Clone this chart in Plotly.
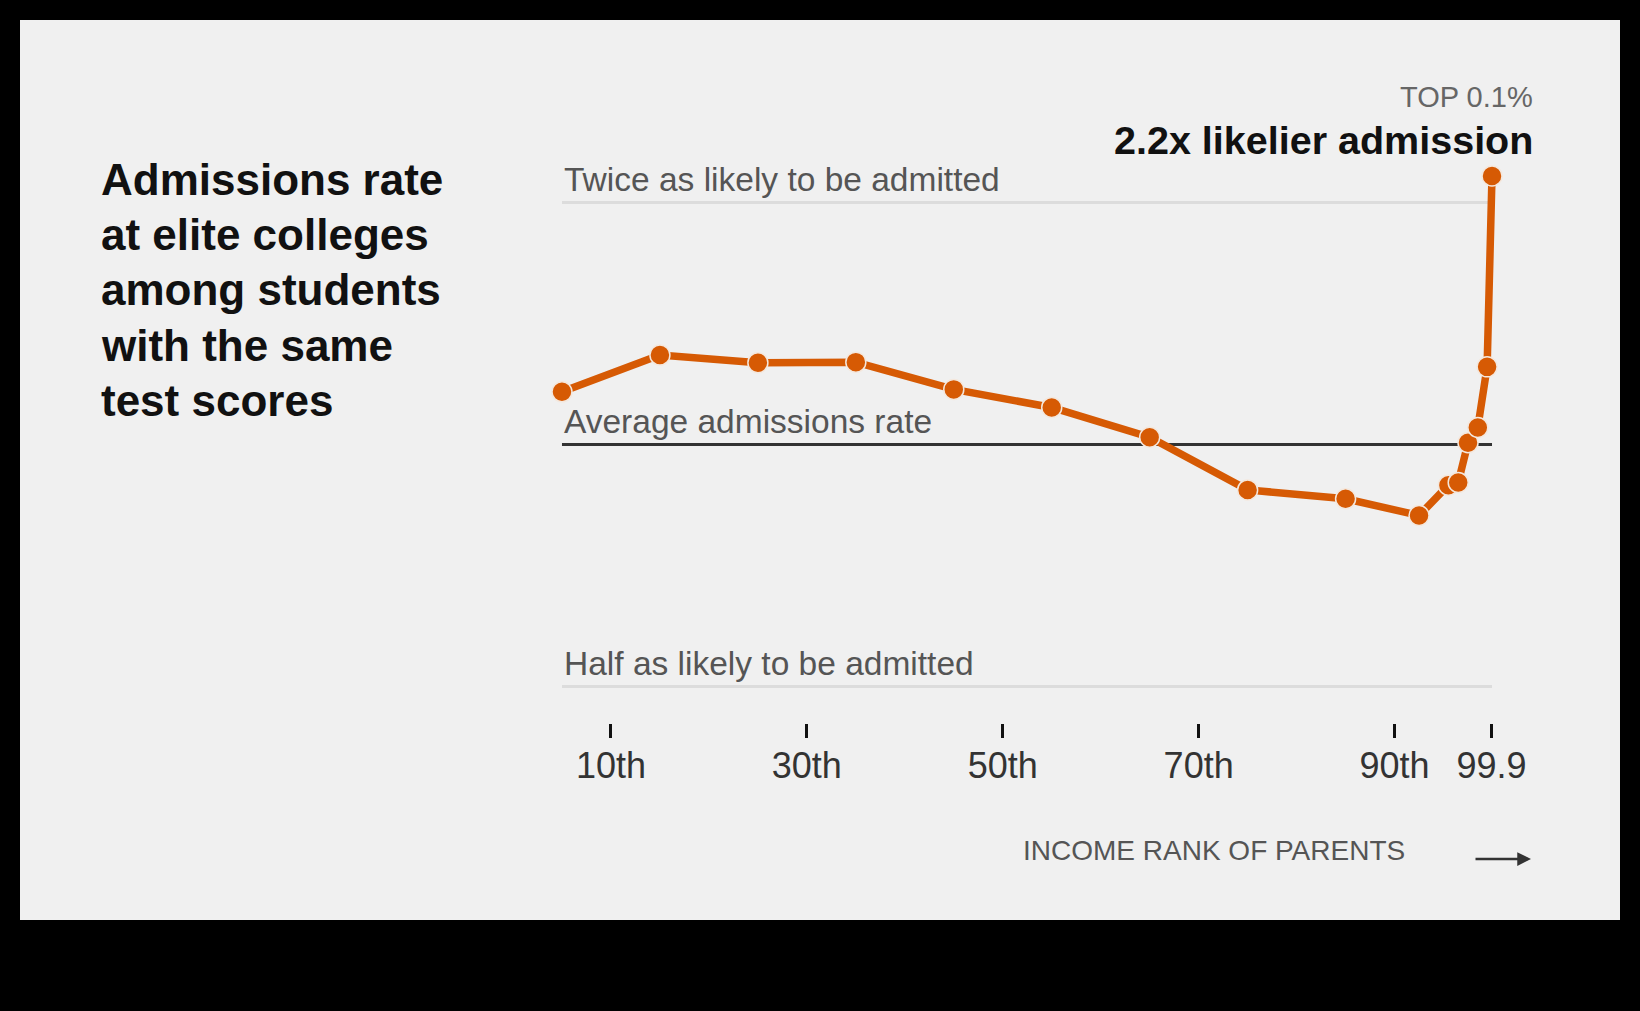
import math
import plotly.graph_objects as go

# ---- data ----
income_pct = [5, 15, 25, 35, 45, 55, 65, 75, 85, 92.5, 95.5, 96.5, 97.5, 98.5, 99.45, 99.95]
rel_admit = [1.163, 1.292, 1.264, 1.266, 1.171, 1.112, 1.021, 0.878, 0.856, 0.816,
             0.890, 0.897, 1.005, 1.050, 1.249, 2.158]
tick_vals = [10, 30, 50, 70, 90, 99.9]
tick_text = ["10th", "30th", "50th", "70th", "90th", "99.9"]
ref_levels = [2, 1, 0.5]
ref_labels = ["Twice as likely to be admitted", "Average admissions rate", "Half as likely to be admitted"]
title_lines = ["Admissions rate", "at elite colleges", "among students", "with the same", "test scores"]

W, H = 1640, 1011
ML, MR, MT, MB = 540, 80, 100, 288
PW, PH = W - ML - MR, H - MT - MB

def px(x):
    return (x - ML) / PW

def py(y):
    return (H - MB - y) / PH

FONT = "Liberation Sans"
ORANGE = "#d65a04"

fig = go.Figure()

fig.add_trace(go.Scatter(
    x=income_pct, y=rel_admit, mode="lines+markers",
    line=dict(color=ORANGE, width=7.5),
    marker=dict(size=20, color=ORANGE, line=dict(color="#f4e8de", width=1.5)),
    cliponaxis=False, hoverinfo="x+y", showlegend=False,
))

shapes = [dict(type="rect", xref="paper", yref="paper", x0=px(20), x1=px(1620),
               y0=py(920), y1=py(20), fillcolor="#f0f0f0", line=dict(width=0), layer="below")]
for lvl in ref_levels:
    shapes.append(dict(type="line", xref="x", yref="y", x0=income_pct[0], x1=income_pct[-1],
                       y0=lvl, y1=lvl, layer="below",
                       line=dict(color="#333333" if lvl == 1 else "#dcdcdc", width=3)))

annotations = []
for lvl, lab in zip(ref_levels, ref_labels):
    annotations.append(dict(x=income_pct[0], y=math.log10(lvl), xref="x", yref="y", text=lab,
                            showarrow=False, xanchor="left", yanchor="bottom", yshift=3,
                            font=dict(family=FONT, size=33.5, color="#555555")))

for i, line in enumerate(title_lines):
    base = 194.6 + i * 55.3
    annotations.append(dict(x=px(99), y=py(base - 0.35 * 44), xref="paper", yref="paper",
                            text="<b>" + line + "</b>", showarrow=False,
                            xanchor="left", yanchor="middle",
                            font=dict(family=FONT, size=44, color="#111111")))

annotations.append(dict(x=px(1535), y=py(107 - 0.35 * 29), xref="paper", yref="paper",
                        text="TOP 0.1%", showarrow=False, xanchor="right", yanchor="middle",
                        font=dict(family=FONT, size=29, color="#666666")))
annotations.append(dict(x=px(1535), y=py(154 - 0.35 * 39.5), xref="paper", yref="paper",
                        text="<b>2.2x likelier admission</b>", showarrow=False,
                        xanchor="right", yanchor="middle",
                        font=dict(family=FONT, size=39.5, color="#111111")))
annotations.append(dict(x=px(1407), y=py(860 - 0.35 * 28), xref="paper", yref="paper",
                        text="INCOME RANK OF PARENTS", showarrow=False,
                        xanchor="right", yanchor="middle",
                        font=dict(family=FONT, size=28, color="#555555")))
annotations.append(dict(x=px(1531), y=py(859), ax=-57, ay=0,
                        xref="paper", yref="paper",
                        text="", showarrow=True, arrowhead=2, arrowsize=1.1,
                        arrowwidth=2.5, arrowcolor="#333333"))

fig.update_layout(
    width=W, height=H,
    margin=dict(l=ML, r=MR, t=MT, b=MB),
    paper_bgcolor="#000000", plot_bgcolor="rgba(0,0,0,0)",
    shapes=shapes, annotations=annotations, showlegend=False,
    xaxis=dict(range=[(ML - 513) / 9.795, (W - MR - 513) / 9.795],
               tickvals=tick_vals, ticktext=tick_text,
               ticks="outside", ticklen=14, tickwidth=3, tickcolor="#111111",
               ticklabelstandoff=-3,
               showline=False, showgrid=False, zeroline=False,
               tickfont=dict(family=FONT, size=36, color="#333333")),
    yaxis=dict(type="log", range=[-(H - MB - 444.5) / 803.9, (444.5 - MT) / 803.9],
               visible=False, showgrid=False, zeroline=False),
)

fig.write_html("out.html", config={"displayModeBar": False},
               post_script="document.body.style.margin='0px';document.body.style.overflow='hidden';")
